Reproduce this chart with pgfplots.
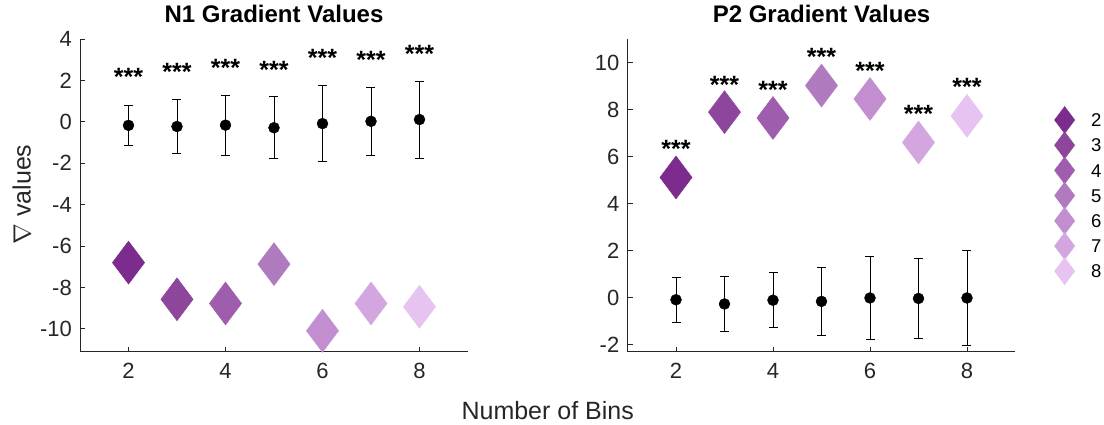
\documentclass[border=0pt]{standalone}
\usepackage{fontspec}
\setmainfont{Liberation Sans}
\usepackage{pgfplots}
\usepackage{pgfplotstable}
\pgfplotsset{compat=1.18}
\definecolor{axgray}{RGB}{38,38,38}
\definecolor{c2}{RGB}{123,44,140}
\definecolor{c3}{RGB}{142,70,157}
\definecolor{c4}{RGB}{159,93,174}
\definecolor{c5}{RGB}{176,122,191}
\definecolor{c6}{RGB}{194,142,207}
\definecolor{c7}{RGB}{212,166,224}
\definecolor{c8}{RGB}{230,195,240}

\pgfplotstableread{
x m e d s
2 -0.17 0.97 -6.80 2.42
3 -0.225 1.315 -8.57 2.66
4 -0.16 1.45 -8.77 2.86
5 -0.285 1.495 -6.87 2.79
6 -0.085 1.845 -10.09 3.34
7 0.025 1.635 -8.77 3.23
8 0.11 1.86 -8.93 3.52
}\leftdata
\pgfplotstableread{
x m e d s
2 -0.09 0.95 5.11 6.54
3 -0.27 1.19 7.89 9.29
4 -0.11 1.17 7.64 9.08
5 -0.16 1.44 9.02 10.45
6 -0.015 1.785 8.45 9.89
7 -0.035 1.695 6.60 8.04
8 -0.015 2.025 7.73 9.18
}\rightdata

\pgfplotsset{
  mystyle/.style={
    scale only axis, width=388pt, height=312.7pt,
    xmin=1, xmax=9, xtick={2,4,6,8},
    axis lines*=left, clip=false,
    axis line style={axgray, line width=0.9pt},
    tick style={axgray, line width=0.9pt},
    major tick length=5pt, tick align=inside,
    tick label style={font=\fontsize{22}{22}\selectfont, text=axgray},
    /pgf/number format/assume math mode=true,
    yticklabel style={inner sep=0pt, xshift=-8pt},
    xticklabel style={inner sep=0pt, yshift=-11.6pt},
    title style={at={(0.5,1)}, anchor=base, yshift=10.5pt, font=\bfseries\fontsize{24}{24}\selectfont, text=black},
  },
  dia/.style={only marks, mark=diamond*, mark size=21.5pt, color=#1, mark options={fill=#1, draw=#1}},
  meanerr/.style={black, only marks, mark=*, mark size=5.5pt, forget plot,
    error bars/.cd, y dir=both, y explicit,
    error bar style={line width=0.9pt, black},
    error mark options={rotate=90, mark size=4.5pt, line width=0.9pt, black}},
  stars/.style={draw=none, forget plot, nodes near coords={***},
    every node near coord/.style={anchor=base, yshift=-14pt, font=\bfseries\fontsize{25}{25}\selectfont, text=black, inner sep=0pt}},
}

\begin{document}
\begin{tikzpicture}
\path[use as bounding box] (0,0) rectangle (1104pt,425pt);

\begin{axis}[mystyle, at={(80pt,73.3pt)}, anchor=south west,
  ymin=-11.1, ymax=4, ytick={-10,-8,...,4},
  title={N1 Gradient Values}]
\addplot[dia=c2] coordinates {(2,-6.80)};
\addplot[dia=c3] coordinates {(3,-8.57)};
\addplot[dia=c4] coordinates {(4,-8.77)};
\addplot[dia=c5] coordinates {(5,-6.87)};
\addplot[dia=c6] coordinates {(6,-10.09)};
\addplot[dia=c7] coordinates {(7,-8.77)};
\addplot[dia=c8] coordinates {(8,-8.93)};
\addplot[meanerr] table[x=x, y=m, y error=e] {\leftdata};
\addplot[stars] table[x=x, y=s] {\leftdata};
\end{axis}

\begin{axis}[mystyle, at={(627.5pt,73.3pt)}, anchor=south west,
  ymin=-2.3, ymax=11, ytick={-2,0,...,10},
  title={P2 Gradient Values},
  legend image code/.code={\draw[#1, mark size=13.5pt, overlay] plot coordinates {(0pt,0pt)}; \path[draw=none, fill=none] (-10.5pt,-12.6pt) rectangle (10.5pt,12.6pt);},
  legend cell align=left,
  legend style={at={(1.0996,0.7813)}, anchor=north west, draw=none, fill=none,
    inner sep=0pt, outer sep=0pt, column sep=16pt, row sep=0pt,
    font=\fontsize{18.5}{18.5}\selectfont,
    nodes={inner sep=0pt, text height=13.3pt, text depth=0pt}}]
\addplot[dia=c2] coordinates {(2,5.11)}; \addlegendentry{2}
\addplot[dia=c3] coordinates {(3,7.89)}; \addlegendentry{3}
\addplot[dia=c4] coordinates {(4,7.64)}; \addlegendentry{4}
\addplot[dia=c5] coordinates {(5,9.02)}; \addlegendentry{5}
\addplot[dia=c6] coordinates {(6,8.45)}; \addlegendentry{6}
\addplot[dia=c7] coordinates {(7,6.60)}; \addlegendentry{7}
\addplot[dia=c8] coordinates {(8,7.73)}; \addlegendentry{8}
\addplot[meanerr] table[x=x, y=m, y error=e] {\rightdata};
\addplot[stars] table[x=x, y=s] {\rightdata};
\end{axis}

\node[rotate=90, anchor=base, font=\fontsize{25}{25}\selectfont, text=axgray] at (30.7pt,230.5pt) {$\nabla$ values};
\node[anchor=base, font=\fontsize{25}{25}\selectfont, text=axgray] at (547.7pt,5pt) {Number of Bins};
\end{tikzpicture}
\end{document}
